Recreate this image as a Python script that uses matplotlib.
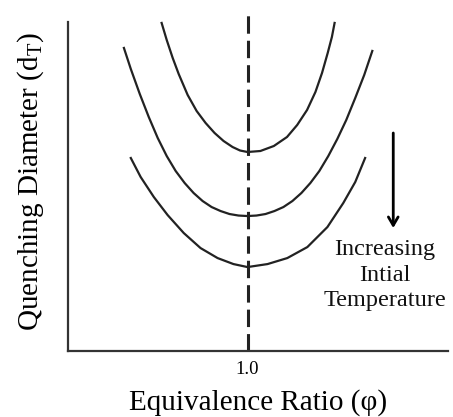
import matplotlib
matplotlib.use('Agg')
import matplotlib.pyplot as plt

# equivalence ratio of the stoichiometric line and its tick label
phiStoich = 1.0
tickLabels = ['1.0']

# three quenching-diameter curves (arbitrary units)
phiHigh = [0.713, 0.730, 0.750, 0.770, 0.800, 0.830, 0.860, 0.890, 0.920, 0.950, 0.975, 1.000,
           1.043, 1.088, 1.132, 1.166, 1.199, 1.227, 1.249, 1.268, 1.282, 1.291]
dHigh = [3.28, 3.11, 2.93, 2.77, 2.56, 2.40, 2.28, 2.18, 2.10, 2.04, 2.005, 1.99,
         2.00, 2.05, 2.14, 2.26, 2.41, 2.59, 2.78, 2.98, 3.14, 3.28]

phiMid = [0.587, 0.610, 0.640, 0.670, 0.700, 0.730, 0.760, 0.790, 0.820, 0.850, 0.880, 0.910,
          0.940, 0.970, 1.000, 1.030, 1.060, 1.090, 1.120, 1.150, 1.180, 1.210, 1.240,
          1.270, 1.300, 1.330, 1.360, 1.390, 1.417]
dMid = [3.03, 2.82, 2.57, 2.34, 2.13, 1.95, 1.80, 1.68, 1.58, 1.50, 1.44, 1.40,
        1.37, 1.355, 1.35, 1.355, 1.37, 1.40, 1.44, 1.50, 1.58, 1.68, 1.80,
        1.95, 2.12, 2.31, 2.53, 2.76, 3.00]

phiLow = [0.610, 0.643, 0.687, 0.733, 0.787, 0.843, 0.900, 0.953, 1.000,
          1.067, 1.133, 1.200, 1.267, 1.320, 1.360, 1.393]
dLow = [1.93, 1.74, 1.54, 1.36, 1.18, 1.03, 0.93, 0.87, 0.84,
        0.87, 0.93, 1.04, 1.24, 1.48, 1.69, 1.93]

# down arrow next to the curves
arrowPhi = 1.487
arrowTop = 2.18
arrowBottom = 1.23

serif = ['Liberation Serif', 'DejaVu Serif']
plt.rcParams['font.family'] = serif
plt.rcParams['mathtext.fontset'] = 'custom'
plt.rcParams['mathtext.rm'] = 'Liberation Serif'

fig = plt.figure(figsize=(4.53, 4.17), dpi=100)
ax = fig.add_axes([0.150, 0.158, 0.839, 0.811])

lineCol = '#222222'
for phi, d in [(phiHigh, dHigh), (phiMid, dMid), (phiLow, dLow)]:
    ax.plot(phi, d, color=lineCol, lw=1.6, solid_joinstyle='round')

# stoichiometric line
ax.axvline(phiStoich, color=lineCol, lw=2.2, dashes=(5.7, 2.3))

# arrow and annotation
ax.annotate('', xy=(arrowPhi, arrowBottom), xytext=(arrowPhi, arrowTop),
            arrowprops=dict(arrowstyle='->,head_length=0.6,head_width=0.35', color='black', lw=2.0,
                            shrinkA=0, shrinkB=0))
ax.text(1.46, 0.76, 'Increasing\nIntial\nTemperature', ha='center', va='center',
        fontsize=17.5, linespacing=1.3, color='#111111')

ax.set_xlim(0.4, 1.67)
ax.set_ylim(0, 3.38)

for side in ['top', 'right']:
    ax.spines[side].set_visible(False)
for side in ['left', 'bottom']:
    ax.spines[side].set_linewidth(1.6)
    ax.spines[side].set_color('#333333')
ax.spines['left'].set_bounds(0, 3.29)

ax.set_xticks([phiStoich])
ax.set_xticklabels(tickLabels, fontsize=13.5)
ax.set_yticks([])
ax.tick_params(axis='x', length=0, pad=7)

ax.set_xlabel('Equivalence Ratio (\u03c6)', fontsize=21, labelpad=8)
ax.set_ylabel(r'Quenching Diameter (d$\mathregular{_T}$)', fontsize=21, labelpad=16)

fig.savefig('out.png', dpi=100)
